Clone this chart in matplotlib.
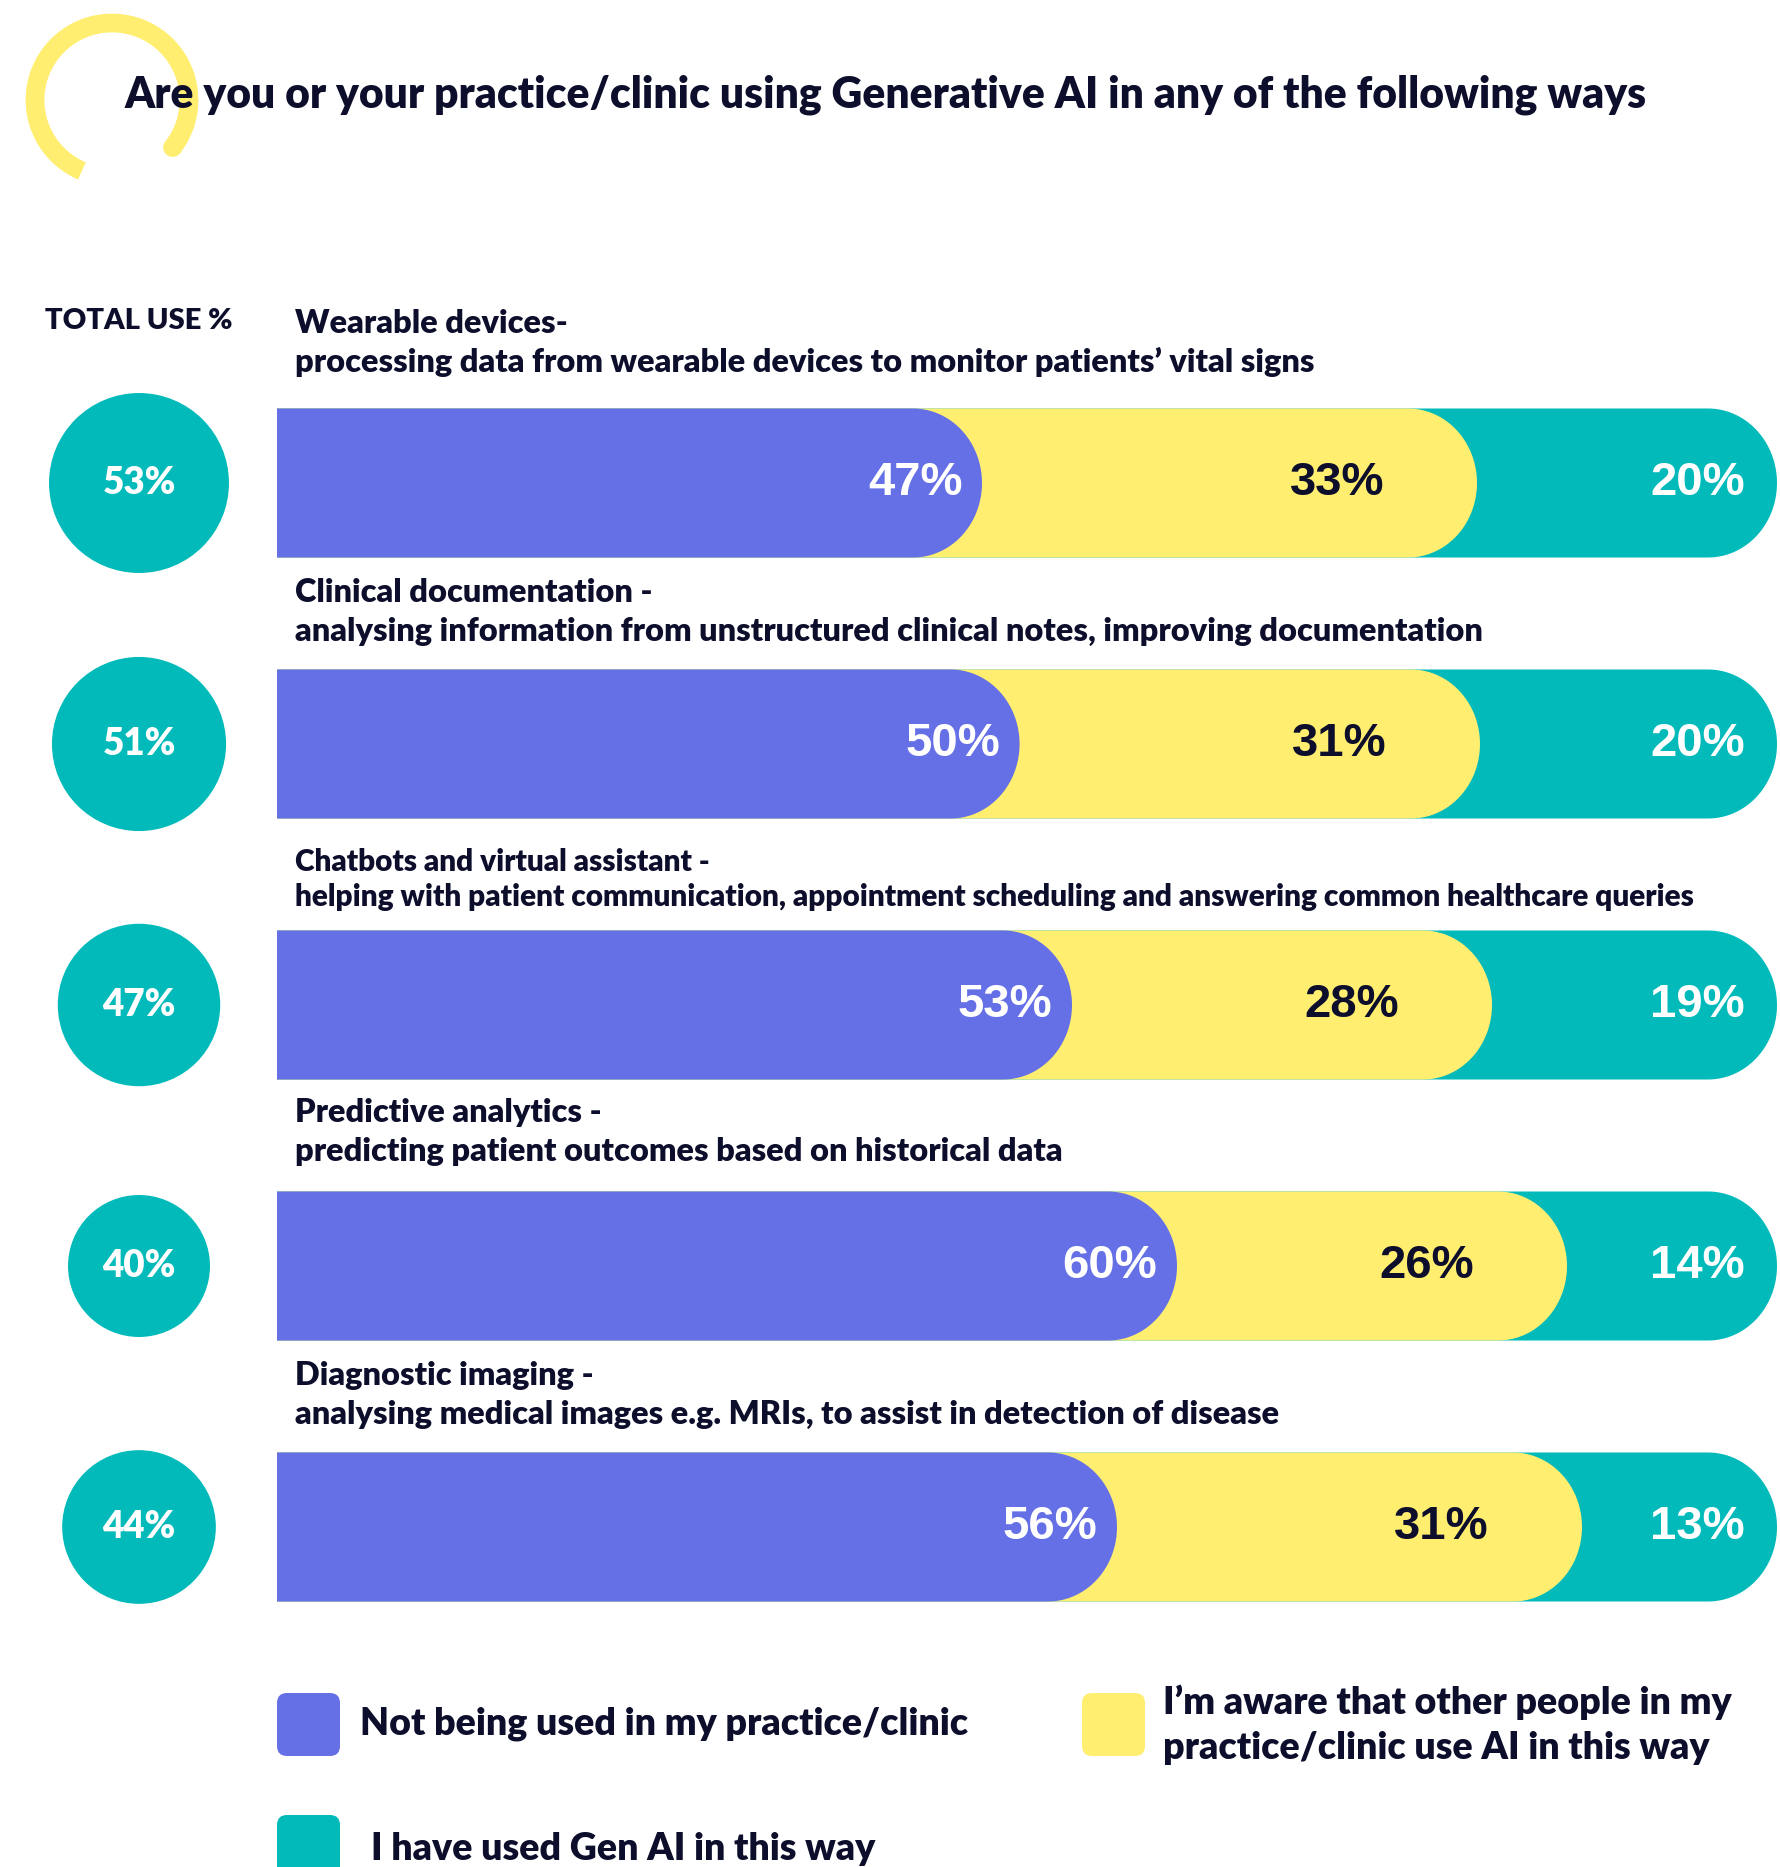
import numpy as np
import matplotlib
matplotlib.use("Agg")
import matplotlib.pyplot as plt
from matplotlib.path import Path
from matplotlib.patches import PathPatch, Circle, FancyBboxPatch, Arc

# ---- data -------------------------------------------------------------
title = "Are you or your practice/clinic using Generative AI in any of the following ways"
headings = [
    "Wearable devices-",
    "Clinical documentation -",
    "Chatbots and virtual assistant -",
    "Predictive analytics -",
    "Diagnostic imaging -",
]
descriptions = [
    "processing data from wearable devices to monitor patients\u2019 vital signs",
    "analysing information from unstructured clinical notes, improving documentation",
    "helping with patient communication, appointment scheduling and answering common healthcare queries",
    "predicting patient outcomes based on historical data",
    "analysing medical images e.g. MRIs, to assist in detection of disease",
]
not_used = [47, 50, 53, 60, 56]
aware = [33, 31, 28, 26, 31]
used = [20, 20, 19, 14, 13]
total_use = [53, 51, 47, 40, 44]
series_names = [
    "Not being used in my practice/clinic",
    "I\u2019m aware that other people in my\npractice/clinic use AI in this way",
    "I have used Gen AI in this way",
]

# ---- style ------------------------------------------------------------
BLUE = "#6570E6"
YELLOW = "#FFEE70"
TEAL = "#02BABA"
INK = "#0D0E2B"
LABEL_FONT = "Lato"
HEAVY = 800
VALUE_FONT = "Liberation Sans"
label_sizes = [23.4, 23.4, 21.4, 23.4, 23.4]   # the long third caption is set smaller
caption_lift = [0.463, 0.432, 0.413, 0.44, 0.432]  # caption's second line above each bar, in rows

W, H = 1781, 1867
fig = plt.figure(figsize=(W / 100, H / 100), dpi=100)
fig.patch.set_facecolor("white")


def px_axes(x0, y0, x1, y1):
    return fig.add_axes([x0 / W, 1 - y1 / H, (x1 - x0) / W, (y1 - y0) / H])


# background layer in pixel units for title, ornament and legend
bg = fig.add_axes([0, 0, 1, 1])
bg.set_xlim(0, W)
bg.set_ylim(H, 0)
bg.axis("off")

bg.add_patch(Arc((112, 100), 154, 154, theta1=113, theta2=398,
                 lw=13.5, color=YELLOW, capstyle="butt", zorder=1))
bg.add_patch(Circle((112 + 77 * np.cos(np.radians(38)), 100 + 77 * np.sin(np.radians(38))),
                    9.5, color=YELLOW, lw=0, zorder=1))
bg.text(125, 95, title, fontsize=30.7, fontweight=HEAVY, family=LABEL_FONT,
        color=INK, ha="left", va="center", zorder=3)
bg.text(139, 321, "TOTAL USE %", fontsize=21, fontweight=HEAVY, family=LABEL_FONT,
        color=INK, ha="center", va="center")

# ---- stacked rounded bars -----------------------------------------------
n = len(headings)
PITCH = 261
FIRST = 483
top = FIRST - PITCH / 2
bottom = FIRST + (n - 1) * PITCH + PITCH / 2

ax = px_axes(277, top, 1777, bottom)
ax.set_xlim(0, 100)
ax.set_ylim(n - 0.5, -0.5)
ax.axis("off")

bar_h = 0.571
rx = 4.6  # horizontal radius of the rounded end, in percent units


def capsule_end(x1, yc):
    t = np.linspace(-np.pi / 2, np.pi / 2, 60)
    ex = (x1 - rx) + rx * np.cos(t)
    ey = yc + bar_h / 2 * np.sin(t)
    verts = [(0, yc - bar_h / 2)] + list(zip(ex, ey)) + [(0, yc + bar_h / 2), (0, yc - bar_h / 2)]
    codes = [Path.MOVETO] + [Path.LINETO] * (len(verts) - 2) + [Path.CLOSEPOLY]
    return Path(verts, codes)


for i in range(n):
    vals = np.array([not_used[i], aware[i], used[i]], dtype=float)
    ends = np.cumsum(vals) / vals.sum() * 100
    colors = [BLUE, YELLOW, TEAL]
    # draw back to front so each segment tucks under the previous one
    for k in (2, 1, 0):
        ax.add_patch(PathPatch(capsule_end(ends[k], i), facecolor=colors[k],
                               edgecolor="none", zorder=2 + (2 - k)))
    offsets = [1.3, 6.2, 2.15]
    txt_colors = ["white", INK, "white"]
    for k in range(3):
        ax.text(ends[k] - offsets[k], i, f"{int(vals[k])}%", ha="right", va="center",
                fontsize=34, fontweight="bold", family=VALUE_FONT,
                color=txt_colors[k], zorder=10)
    fs = label_sizes[i]
    line2 = i - caption_lift[i]
    line1 = line2 - 39 * fs / 23.4 / PITCH
    ax.text(1.2, line1, headings[i], ha="left", va="center", fontsize=fs,
            fontweight=HEAVY, family=LABEL_FONT, color=INK)
    ax.text(1.2, line2, descriptions[i], ha="left", va="center", fontsize=fs,
            fontweight=HEAVY, family=LABEL_FONT, color=INK)

# ---- total-use circles ----------------------------------------------------
cax = px_axes(0, top, 277, bottom)
cax.set_xlim(0, 277 / PITCH)
cax.set_ylim(n - 0.5, -0.5)
cax.axis("off")
for i, v in enumerate(total_use):
    r = (1.46 * v + 12.6) / PITCH
    cax.add_patch(Circle((139 / PITCH, i), r, facecolor=TEAL, edgecolor="none"))
    cax.text(139 / PITCH, i, f"{v}%", ha="center", va="center", fontsize=26.5,
             fontweight=HEAVY, family=LABEL_FONT, color="white")

# ---- legend ---------------------------------------------------------------
legend_items = [
    (BLUE, 277, 1693, 360, 1724, series_names[0]),
    (YELLOW, 1082, 1693, 1163, 1725, series_names[1]),
    (TEAL, 277, 1815, 371, 1849, series_names[2]),
]
for col, sx, sy, tx, ty, label in legend_items:
    bg.add_patch(FancyBboxPatch((sx, sy), 63, 63, boxstyle="round,pad=0,rounding_size=10",
                                facecolor=col, edgecolor="none"))
    bg.text(tx, ty, label, ha="left", va="center", fontsize=27, fontweight=HEAVY,
            family=LABEL_FONT, color=INK, linespacing=1.4)

fig.savefig("out.png", dpi=100, facecolor="white")
